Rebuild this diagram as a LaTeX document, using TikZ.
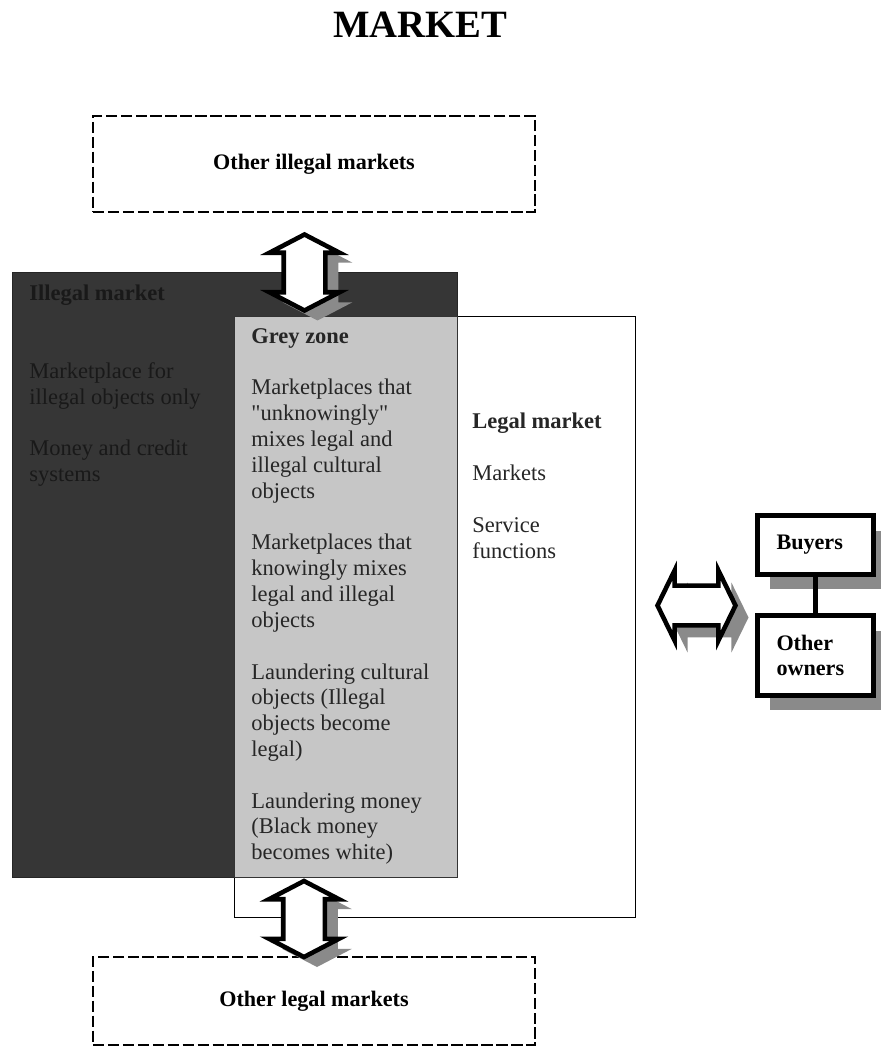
\documentclass[tikz,border=0pt]{standalone}
\usepackage{fontspec}
\setmainfont{Liberation Serif}
\usetikzlibrary{shapes,arrows,positioning,shadows}

\definecolor{illegalfill}{HTML}{363636}
\definecolor{greyfill}{HTML}{C6C6C6}
\definecolor{shadowfill}{HTML}{8A8A8A}

\begin{document}
\begin{tikzpicture}[x=0.02cm, y=-0.02cm,
    zone/.style={rectangle, anchor=north west, inner sep=0pt, line width=0.6pt},
    zonetext/.style={anchor=north west, inner sep=0pt, align=left, font=\fontsize{12.8}{14.7}\selectfont},
    otherbox/.style={rectangle, draw, line width=1.1pt, dash pattern=on 6.5pt off 2pt, minimum width=8.84cm, inner sep=0pt, font=\bfseries\fontsize{12.6}{15}\selectfont},
    ownerbox/.style={rectangle, draw, fill=white, line width=2.8pt, minimum width=2.32cm, text width=1.56cm, inner xsep=0.38cm, align=left, font=\bfseries\fontsize{12.6}{14.7}\selectfont, drop shadow={shadow xshift=0.24cm, shadow yshift=-0.3cm, fill=shadowfill, opacity=1}},
    flowarrow/.style={double arrow, draw, fill=white, line width=2.6pt, inner xsep=0pt, inner ysep=0.32cm, minimum width=1.4cm, minimum height=1.52cm, double arrow tip angle=125}
]
    \useasboundingbox (0,0) rectangle (880,1057);

    % Title
    \node[font=\bfseries\fontsize{22}{26}\selectfont] (title) at (420,25) {MARKET};

    % Outer markets
    \node[otherbox, minimum height=1.92cm] (otherillegal) at (314,164) {Other illegal markets};
    \node[otherbox, minimum height=1.76cm] (otherlegal) at (314,1001) {Other legal markets};

    % Zones
    \node[zone, draw=black!85, fill=illegalfill, minimum width=8.9cm, minimum height=12.1cm] (illegal) at (12,272) {};
    \node[zone, draw=black, fill=white, minimum width=8.02cm, minimum height=12.02cm] (legal) at (234,316) {};
    \node[zone, draw=black!80, fill=greyfill, minimum width=4.46cm, minimum height=11.22cm] (grey) at (234,316) {};

    % Zone texts
    \node[zonetext, text=black!90] (illegaltext) at (29,285) {\textbf{Illegal market}\\[29.4pt]
        Marketplace for\\illegal objects only\\[14.7pt]
        Money and credit\\systems};
    \node[zonetext, text=black!85] (greytext) at (251,328) {\textbf{Grey zone}\\[14.7pt]
        Marketplaces that\\\textquotedbl unknowingly\textquotedbl\\mixes legal and\\illegal cultural\\objects\\[14.7pt]
        Marketplaces that\\knowingly mixes\\legal and illegal\\objects\\[14.7pt]
        Laundering cultural\\objects (Illegal\\objects become\\legal)\\[14.7pt]
        Laundering money\\(Black money\\becomes white)};
    \node[zonetext, text=black!85] (legaltext) at (472,413) {\textbf{Legal market}\\[14.7pt]
        Markets\\[14.7pt]
        Service\\functions};

    % Arrows
    \node[flowarrow, rotate=90, drop shadow={shadow xshift=0.26cm, shadow yshift=-0.2cm, fill=shadowfill, opacity=1}] (uparrow) at (304.5,272.5) {};
    \node[flowarrow, rotate=90, drop shadow={shadow xshift=0.26cm, shadow yshift=-0.2cm, fill=shadowfill, opacity=1}] (downarrow) at (304,919) {};
    \node[flowarrow, inner ysep=0.28cm, minimum height=1.56cm, double arrow tip angle=128, drop shadow={shadow xshift=0.26cm, shadow yshift=-0.24cm, fill=shadowfill, opacity=1}] (sidearrow) at (696.5,605.5) {};

    % Owners
    \node[ownerbox, minimum height=1.18cm] (buyers) at (815.5,545) {Buyers};
    \node[ownerbox, minimum height=1.6cm] (owners) at (815.5,655.5) {Other\\owners};
    \draw[line width=2.8pt] (buyers) -- (owners);
\end{tikzpicture}
\end{document}
